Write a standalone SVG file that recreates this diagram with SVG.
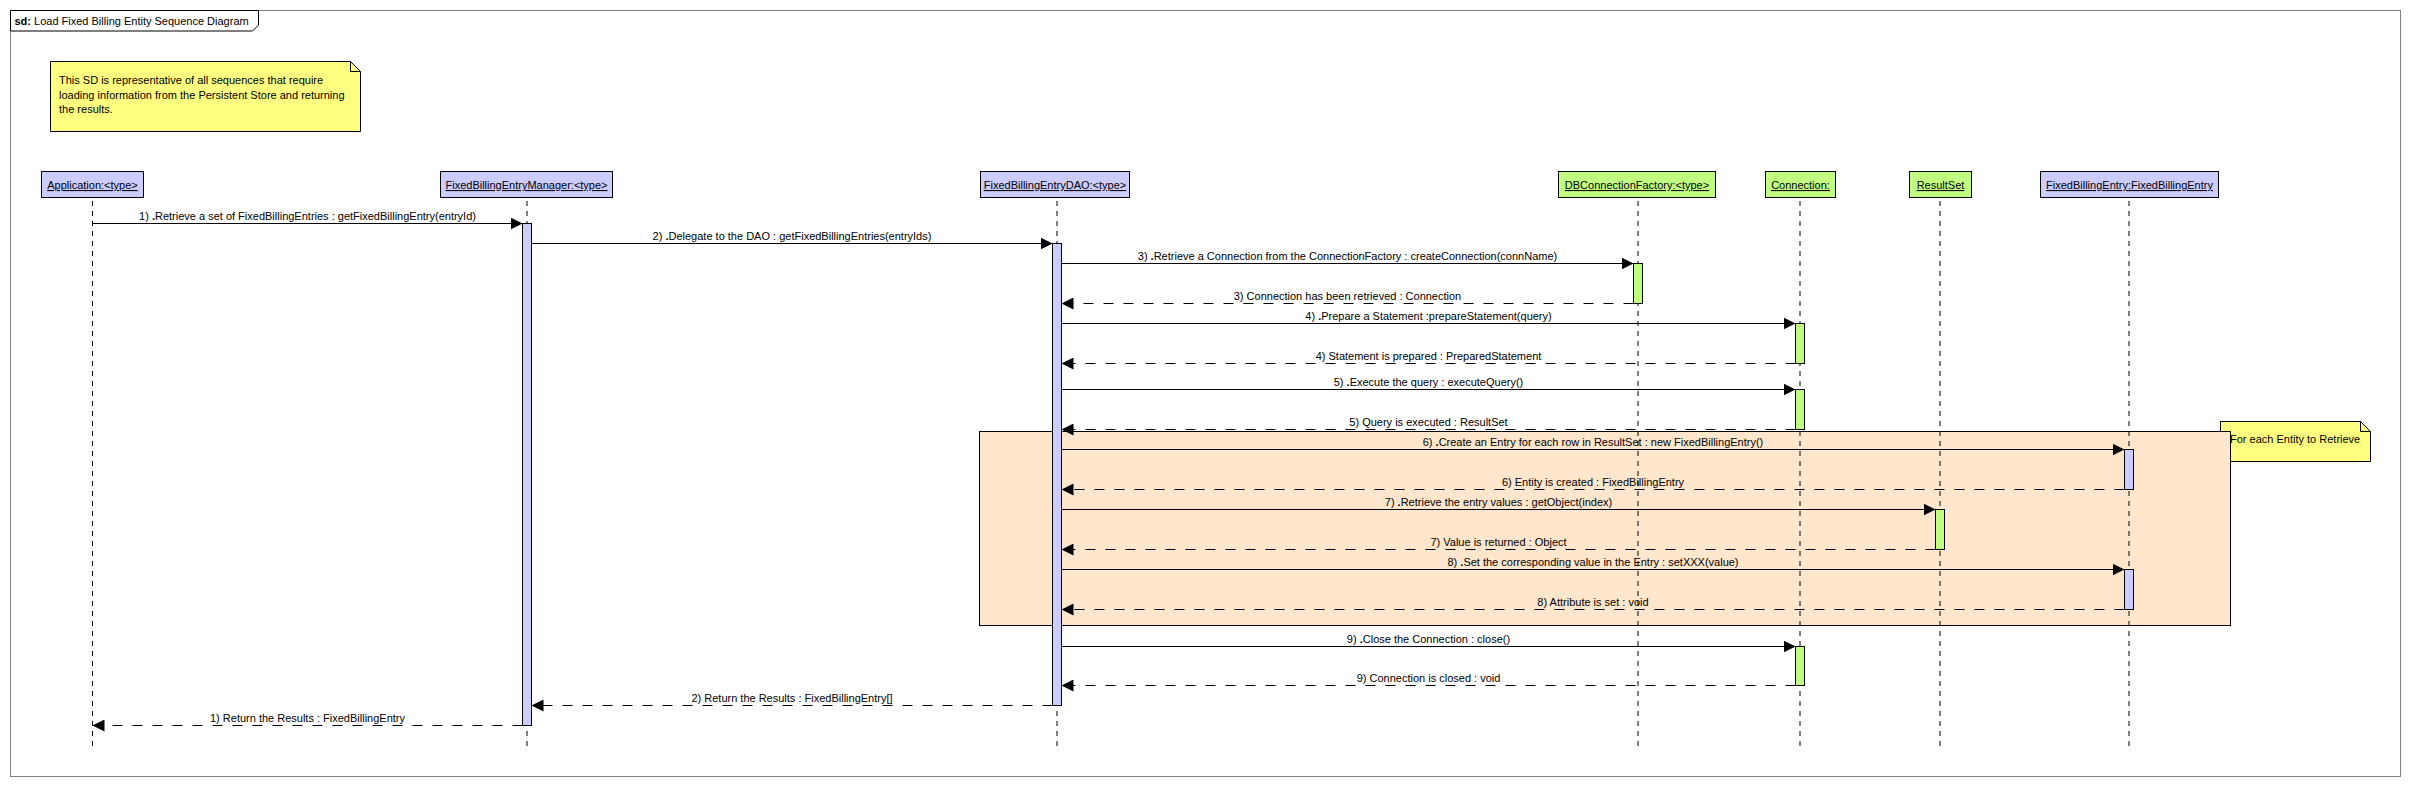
<svg xmlns="http://www.w3.org/2000/svg" width="2411" height="786" viewBox="0 0 2411 786">
<style>
text{font-family:"Liberation Sans",Arial,sans-serif;font-size:11px;fill:#000}
.hb{fill:#ccccff;stroke:#000;stroke-width:1}
.hg{fill:#c0ff80;stroke:#000;stroke-width:1}
.life{stroke:#000;stroke-width:1;stroke-dasharray:5 5;fill:none}
.msg{stroke:#000;stroke-width:1;fill:none;marker-end:url(#ah)}
.ret{stroke:#000;stroke-width:1;fill:none;stroke-dasharray:10 10;marker-end:url(#ah)}
.note{fill:#ffff80;stroke:#000;stroke-width:1}
.fold{fill:none;stroke:#000;stroke-width:1}
.lbl{text-anchor:middle}
.hdr{text-anchor:middle;text-decoration:underline}
.b{font-weight:bold}
</style>
<defs>
<marker id="ah" markerUnits="userSpaceOnUse" markerWidth="12" markerHeight="12" refX="12" refY="6" orient="auto">
<path d="M0,0 L12,6 L0,12 Z" fill="#000"/>
</marker>
</defs>
<rect x="0" y="0" width="2411" height="786" fill="#fff"/>
<g id="frame">
<rect x="10.5" y="10.5" width="2390" height="766" fill="none" stroke="#808080" stroke-width="1"/>
<path d="M10.5,10.5 H258.5 V25 L252.5,31 H10.5 Z" fill="#fff" stroke="#000" stroke-width="1"/>
<text x="14.5" y="24.5"><tspan class="b">sd:</tspan> Load Fixed Billing Entity Sequence Diagram</text>
</g>
<g id="note-top">
<path class="note" d="M50.5,61.5 H350.5 L360.5,71.5 V131.5 H50.5 Z"/>
<path class="fold" d="M350.5,61.5 V71.5 H360.5"/>
<text x="59" y="84">This SD is representative of all sequences that require</text>
<text x="59" y="98.5">loading information from the Persistent Store and returning</text>
<text x="59" y="113">the results.</text>
</g>
<g id="note-loop">
<path class="note" d="M2220.5,421.5 H2360.5 L2370.5,431.5 V461.5 H2220.5 Z"/>
<path class="fold" d="M2360.5,421.5 V431.5 H2370.5"/>
<text x="2230" y="443">For each Entity to Retrieve</text>
</g>
<g id="loop-fragment">
<rect x="979.5" y="431.5" width="1251" height="194" fill="#ffe6cc" stroke="#000" stroke-width="1"/>
</g>
<g id="lifelines">
<line class="life" x1="92.5" y1="201" x2="92.5" y2="746"/>
<line class="life" x1="527" y1="201" x2="527" y2="746"/>
<line class="life" x1="1057" y1="201" x2="1057" y2="746"/>
<line class="life" x1="1638" y1="201" x2="1638" y2="746"/>
<line class="life" x1="1800" y1="201" x2="1800" y2="746"/>
<line class="life" x1="1940" y1="201" x2="1940" y2="746"/>
<line class="life" x1="2129" y1="201" x2="2129" y2="746"/>
</g>
<g id="Application">
<rect class="hb" x="41.5" y="171.5" width="102" height="26"/>
<text class="hdr" x="92.5" y="189">Application:&lt;type&gt;</text>
</g>
<g id="FixedBillingEntryManager">
<rect class="hb" x="440.5" y="171.5" width="172" height="26"/>
<text class="hdr" x="526.5" y="189">FixedBillingEntryManager:&lt;type&gt;</text>
<rect class="hb" x="522.5" y="223.5" width="9" height="502"/>
</g>
<g id="FixedBillingEntryDAO">
<rect class="hb" x="980.5" y="171.5" width="149" height="26"/>
<text class="hdr" x="1055" y="189">FixedBillingEntryDAO:&lt;type&gt;</text>
<rect class="hb" x="1052.5" y="243.5" width="9" height="462"/>
</g>
<g id="DBConnectionFactory">
<rect class="hg" x="1558.5" y="171.5" width="157" height="26"/>
<text class="hdr" x="1637" y="189">DBConnectionFactory:&lt;type&gt;</text>
<rect class="hg" x="1633.5" y="263.5" width="9" height="40"/>
</g>
<g id="Connection">
<rect class="hg" x="1765.5" y="171.5" width="70" height="26"/>
<text class="hdr" x="1800.5" y="189">Connection:</text>
<rect class="hg" x="1795.5" y="323.5" width="9" height="40"/>
<rect class="hg" x="1795.5" y="389.5" width="9" height="40"/>
<rect class="hg" x="1795.5" y="646.5" width="9" height="39"/>
</g>
<g id="ResultSet">
<rect class="hg" x="1909.5" y="171.5" width="62" height="26"/>
<text class="hdr" x="1940.5" y="189">ResultSet</text>
<rect class="hg" x="1935.5" y="509.5" width="9" height="40"/>
</g>
<g id="FixedBillingEntry">
<rect class="hb" x="2040.5" y="171.5" width="178" height="26"/>
<text class="hdr" x="2129.5" y="189">FixedBillingEntry:FixedBillingEntry</text>
<rect class="hb" x="2124.5" y="449.5" width="9" height="40"/>
<rect class="hb" x="2124.5" y="569.5" width="9" height="40"/>
</g>
<g id="connectors">
<line class="msg" x1="92.5" y1="223.5" x2="522.5" y2="223.5"/>
<text class="lbl" x="307.5" y="219.5">1) <tspan class="b">.</tspan>Retrieve a set of FixedBillingEntries : getFixedBillingEntry(entryId)</text>
<line class="msg" x1="531.5" y1="243.5" x2="1052.5" y2="243.5"/>
<text class="lbl" x="792" y="239.5">2) <tspan class="b">.</tspan>Delegate to the DAO : getFixedBillingEntries(entryIds)</text>
<line class="msg" x1="1061.5" y1="263.5" x2="1633.5" y2="263.5"/>
<text class="lbl" x="1347.5" y="259.5">3) <tspan class="b">.</tspan>Retrieve a Connection from the ConnectionFactory : createConnection(connName)</text>
<line class="ret" x1="1633.5" y1="303.5" x2="1061.5" y2="303.5"/>
<text class="lbl" x="1347.5" y="299.5">3) Connection has been retrieved : Connection</text>
<line class="msg" x1="1061.5" y1="323.5" x2="1795.5" y2="323.5"/>
<text class="lbl" x="1428.5" y="319.5">4) <tspan class="b">.</tspan>Prepare a Statement :prepareStatement(query)</text>
<line class="ret" x1="1795.5" y1="363.5" x2="1061.5" y2="363.5"/>
<text class="lbl" x="1428.5" y="359.5">4) Statement is prepared : PreparedStatement</text>
<line class="msg" x1="1061.5" y1="389.5" x2="1795.5" y2="389.5"/>
<text class="lbl" x="1428.5" y="385.5">5) <tspan class="b">.</tspan>Execute the query : executeQuery()</text>
<line class="ret" x1="1795.5" y1="429.5" x2="1061.5" y2="429.5"/>
<text class="lbl" x="1428.5" y="425.5">5) Query is executed : ResultSet</text>
<line class="msg" x1="1061.5" y1="449.5" x2="2124.5" y2="449.5"/>
<text class="lbl" x="1593" y="445.5">6) <tspan class="b">.</tspan>Create an Entry for each row in ResultSet : new FixedBillingEntry()</text>
<line class="ret" x1="2124.5" y1="489.5" x2="1061.5" y2="489.5"/>
<text class="lbl" x="1593" y="485.5">6) Entity is created : FixedBillingEntry</text>
<line class="msg" x1="1061.5" y1="509.5" x2="1935.5" y2="509.5"/>
<text class="lbl" x="1498.5" y="505.5">7) <tspan class="b">.</tspan>Retrieve the entry values : getObject(index)</text>
<line class="ret" x1="1935.5" y1="549.5" x2="1061.5" y2="549.5"/>
<text class="lbl" x="1498.5" y="545.5">7) Value is returned : Object</text>
<line class="msg" x1="1061.5" y1="569.5" x2="2124.5" y2="569.5"/>
<text class="lbl" x="1593" y="565.5">8) <tspan class="b">.</tspan>Set the corresponding value in the Entry : setXXX(value)</text>
<line class="ret" x1="2124.5" y1="609.5" x2="1061.5" y2="609.5"/>
<text class="lbl" x="1593" y="605.5">8) Attribute is set : void</text>
<line class="msg" x1="1061.5" y1="646.5" x2="1795.5" y2="646.5"/>
<text class="lbl" x="1428.5" y="642.5">9) <tspan class="b">.</tspan>Close the Connection : close()</text>
<line class="ret" x1="1795.5" y1="685.5" x2="1061.5" y2="685.5"/>
<text class="lbl" x="1428.5" y="681.5">9) Connection is closed : void</text>
<line class="ret" x1="1052.5" y1="705.5" x2="531.5" y2="705.5"/>
<text class="lbl" x="792" y="701.5">2) Return the Results : FixedBillingEntry[]</text>
<line class="ret" x1="522.5" y1="725.5" x2="92.5" y2="725.5"/>
<text class="lbl" x="307.5" y="721.5">1) Return the Results : FixedBillingEntry</text>
</g>
</svg>
